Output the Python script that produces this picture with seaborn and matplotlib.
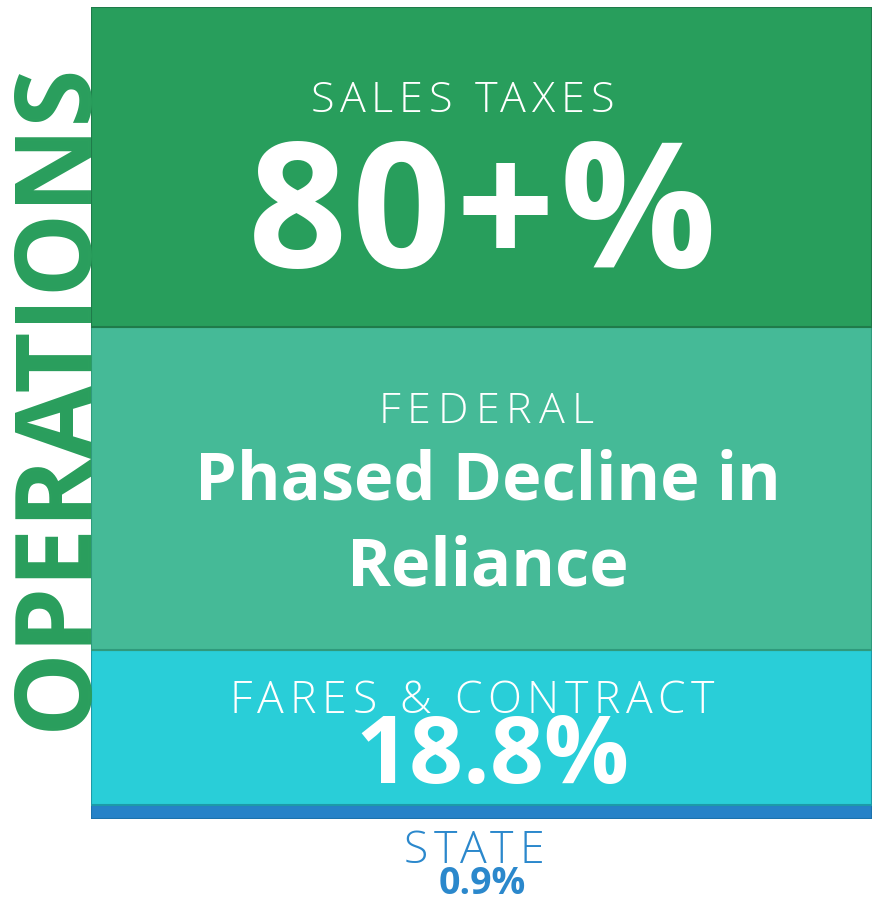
import matplotlib
matplotlib.use("Agg")
import matplotlib.pyplot as plt
import seaborn as sns

# ── Data ──────────────────────────────────────────────────────────────────────
segments      = ["STATE", "FARES & CONTRACT", "FEDERAL", "SALES TAXES"]
block_heights = [14, 155, 323, 320]          # stacked block sizes (bottom -> top)
headlines     = ["0.9%", "18.8%", "Phased Decline in\nReliance", "80+%"]
fills         = ["#2682c8", "#29ced8", "#45ba97", "#289e5c"]
edges         = ["#1c72ad", "#1d9aa8", "#2f9a7c", "#1f7b4a"]
side_label    = "OPERATIONS"

W, H = 872, 908

sns.set_style("white")
plt.rcParams["font.family"] = ["Open Sans", "DejaVu Sans"]

fig = plt.figure(figsize=(W / 100, H / 100), dpi=100)
ax = fig.add_axes([91 / W, (H - 819) / H, (W - 91) / W, 812 / H])

bottom = 0
for h, fc, ec in zip(block_heights, fills, edges):
    sns.barplot(x=[0], y=[h], bottom=bottom, width=1, color=fc, saturation=1,
                edgecolor=ec, linewidth=1.5, ax=ax)
    bottom += h

ax.set_xlim(-0.5, 0.5)
ax.set_ylim(0, sum(block_heights))
ax.axis("off")

renderer = fig.canvas.get_renderer()


def px(x, y):
    return x / W, 1 - y / H


def ink_width(s, **props):
    if not s.strip():
        return 0.0
    t = fig.text(0, 0, s, **props)
    w = t.get_window_extent(renderer).width
    t.remove()
    return w


def label(x, y, s, size, color="white", weight="normal", track=0.0):
    # draws text centred on x with extra letter spacing (pixels)
    props = dict(fontsize=size, fontweight=weight)
    if track == 0:
        fig.text(*px(x, y), s, color=color, ha="center", va="baseline", **props)
        return
    total = ink_width(s, **props) + track * (len(s) - 1)
    left = x - total / 2
    for i, ch in enumerate(s):
        if ch == " ":
            continue
        start = ink_width(s[:i + 1], **props) - ink_width(ch, **props)
        fig.text(*px(left + start + i * track, y), ch, color=color,
                 ha="left", va="baseline", **props)


# sales taxes block
label(462, 112, segments[3], 31, weight="light", track=5.8)
label(482, 267, headlines[3], 125, weight="bold", track=5)

# federal block
label(486, 423, segments[2], 31, weight="light", track=7)
label(488, 499, headlines[2].split("\n")[0], 48, weight="bold")
label(488, 585, headlines[2].split("\n")[1], 48, weight="bold")

# fares & contract block
label(472, 713, segments[1], 32, weight="light", track=5.8)
label(492, 783, headlines[1], 68, weight="bold")

# state (below the bar)
label(474, 863, segments[0], 32, color="#2b88cc", weight="light", track=6)
label(482, 894, headlines[0], 27, color="#2b88cc", weight="bold")

# vertical side label
fig.text(*px(58, 396), side_label, rotation=90, fontsize=76, color="#299e5c",
         fontweight="bold", ha="center", va="center", zorder=5)

fig.savefig("out.png", dpi=100)
